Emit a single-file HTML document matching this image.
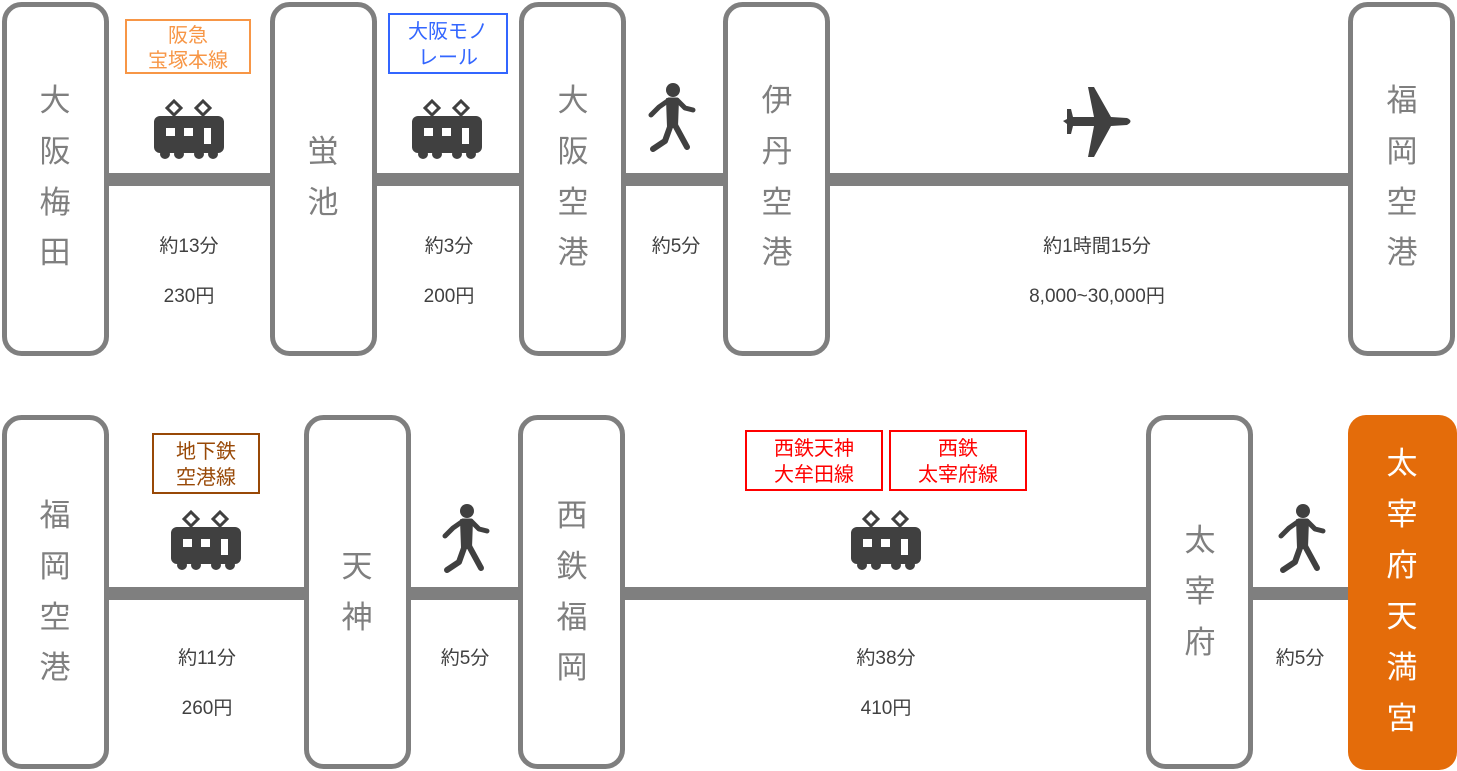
<!DOCTYPE html>
<html><head><meta charset="utf-8"><style>
html,body{margin:0;padding:0;background:#fff}
svg{display:block}
.st{font-family:"Liberation Sans","Noto Sans CJK JP",sans-serif;font-size:31px;fill:#7f7f7f;text-anchor:middle}
.lb{font-family:"Liberation Sans","Noto Sans CJK JP",sans-serif;font-size:19px;fill:#404040;text-anchor:middle}
.tg{font-family:"Liberation Sans","Noto Sans CJK JP",sans-serif;font-size:20px;text-anchor:middle}
</style></head><body>
<svg width="1457" height="771" viewBox="0 0 1457 771" xmlns="http://www.w3.org/2000/svg">
<defs>
<g id="train">
<path d="M20 0 L27 7 L20 14 L13 7Z M49 0 L56 7 L49 14 L42 7Z" fill="none" stroke="#404040" stroke-width="3"/>
<rect x="0" y="15" width="70" height="37" rx="6" fill="#404040"/>
<circle cx="11" cy="53" r="5" fill="#404040"/><circle cx="25" cy="53" r="5" fill="#404040"/>
<circle cx="45" cy="53" r="5" fill="#404040"/><circle cx="59" cy="53" r="5" fill="#404040"/>
<rect x="12" y="27" width="9" height="8" fill="#fff"/><rect x="30" y="27" width="9" height="8" fill="#fff"/><rect x="50" y="27" width="7" height="16" fill="#fff"/>
</g>
<g id="walk" fill="#404040" stroke="#404040" stroke-linecap="round" stroke-linejoin="round">
<circle cx="26" cy="7" r="7" stroke="none"/>
<path d="M22 17 L30 17 L38 25 L46 27" fill="none" stroke-width="5"/>
<path d="M22 17 L12 24 L4 32" fill="none" stroke-width="5"/>
<path d="M20 16 L31 16 L30 44 L21 44Z" stroke-width="2"/>
<path d="M23 44 L18 58 L6 66" fill="none" stroke-width="6"/>
<path d="M28 42 L40 64" fill="none" stroke-width="6"/>
</g>
</defs>
<g fill="#7f7f7f">
<rect x="105" y="173" width="170" height="13"/><rect x="373" y="173" width="152" height="13"/>
<rect x="623" y="173" width="106" height="13"/><rect x="827" y="173" width="527" height="13"/>
<rect x="105" y="587" width="204" height="13"/><rect x="407" y="587" width="117" height="13"/>
<rect x="622" y="587" width="530" height="13"/><rect x="1250" y="587" width="100" height="13"/>
</g>
<g fill="#fff" stroke="#7f7f7f" stroke-width="5">
<rect x="4.5" y="4.5" width="102" height="349" rx="17"/>
<rect x="272.5" y="4.5" width="102" height="349" rx="17"/>
<rect x="521.5" y="4.5" width="102" height="349" rx="17"/>
<rect x="725.5" y="4.5" width="102" height="349" rx="17"/>
<rect x="1350.5" y="4.5" width="102" height="349" rx="17"/>
<rect x="4.5" y="417.5" width="102" height="349" rx="17"/>
<rect x="306.5" y="417.5" width="102" height="349" rx="17"/>
<rect x="520.5" y="417.5" width="102" height="349" rx="17"/>
<rect x="1148.5" y="417.5" width="102" height="349" rx="17"/>
</g>
<rect x="1348" y="415" width="109" height="355" rx="18" fill="#e46c0a"/>
<g class="st">
<text x="55" y="111">大</text><text x="55" y="162">阪</text><text x="55" y="213">梅</text><text x="55" y="263">田</text>
<text x="323" y="162">蛍</text><text x="323" y="213">池</text>
<text x="573" y="111">大</text><text x="573" y="162">阪</text><text x="573" y="213">空</text><text x="573" y="263">港</text>
<text x="777" y="111">伊</text><text x="777" y="162">丹</text><text x="777" y="213">空</text><text x="777" y="263">港</text>
<text x="1402" y="111">福</text><text x="1402" y="162">岡</text><text x="1402" y="213">空</text><text x="1402" y="263">港</text>
<text x="55" y="526">福</text><text x="55" y="577">岡</text><text x="55" y="628">空</text><text x="55" y="678">港</text>
<text x="357" y="577">天</text><text x="357" y="628">神</text>
<text x="572" y="526">西</text><text x="572" y="577">鉄</text><text x="572" y="628">福</text><text x="572" y="678">岡</text>
<text x="1200" y="551">太</text><text x="1200" y="602">宰</text><text x="1200" y="653">府</text>
</g>
<g class="st" style="fill:#fff">
<text x="1402" y="474">太</text><text x="1402" y="525">宰</text><text x="1402" y="576">府</text><text x="1402" y="627">天</text><text x="1402" y="678">満</text><text x="1402" y="729">宮</text>
</g>
<g class="lb">
<text x="189" y="252">約13分</text><text x="189" y="302">230円</text>
<text x="449" y="252">約3分</text><text x="449" y="302">200円</text>
<text x="676" y="252">約5分</text>
<text x="1097" y="252">約1時間15分</text><text x="1097" y="302">8,000~30,000円</text>
<text x="207" y="664">約11分</text><text x="207" y="714">260円</text>
<text x="465" y="664">約5分</text>
<text x="886" y="664">約38分</text><text x="886" y="714">410円</text>
<text x="1300" y="664">約5分</text>
</g>
<g fill="#fff" stroke-width="2">
<rect x="126" y="20" width="124" height="53" stroke="#f79646"/>
<rect x="389" y="14" width="118" height="59" stroke="#3366ff"/>
<rect x="153" y="434" width="106" height="59" stroke="#984806"/>
<rect x="746" y="431" width="136" height="59" stroke="#ff0000"/>
<rect x="890" y="431" width="136" height="59" stroke="#ff0000"/>
</g>
<g class="tg">
<text x="188" y="42" fill="#f79646">阪急</text><text x="188" y="67" fill="#f79646">宝塚本線</text>
<text x="448" y="38" fill="#3366ff">大阪モノ</text><text x="448" y="64" fill="#3366ff">レール</text>
<text x="206" y="458" fill="#984806">地下鉄</text><text x="206" y="484" fill="#984806">空港線</text>
<text x="814" y="455" fill="#ff0000">西鉄天神</text><text x="814" y="481" fill="#ff0000">大牟田線</text>
<text x="958" y="455" fill="#ff0000">西鉄</text><text x="958" y="481" fill="#ff0000">太宰府線</text>
</g>
<use href="#train" x="154" y="101"/>
<use href="#train" x="412" y="101"/>
<use href="#train" x="171" y="512"/>
<use href="#train" x="851" y="512"/>
<use href="#walk" x="647" y="83"/>
<use href="#walk" x="441" y="504"/>
<use href="#walk" x="1277" y="504"/>
<path d="M1088 87 L1094 87 L1111 117 L1127 118 Q1134 121 1127 125 L1111 126 L1094 157 L1088 157 L1094 126 L1073 126 L1071 134 L1067 134 L1067 124 L1063 121 L1067 119 L1067 109 L1071 109 L1073 117 L1094 117Z" fill="#404040"/>
</svg>
</body></html>
